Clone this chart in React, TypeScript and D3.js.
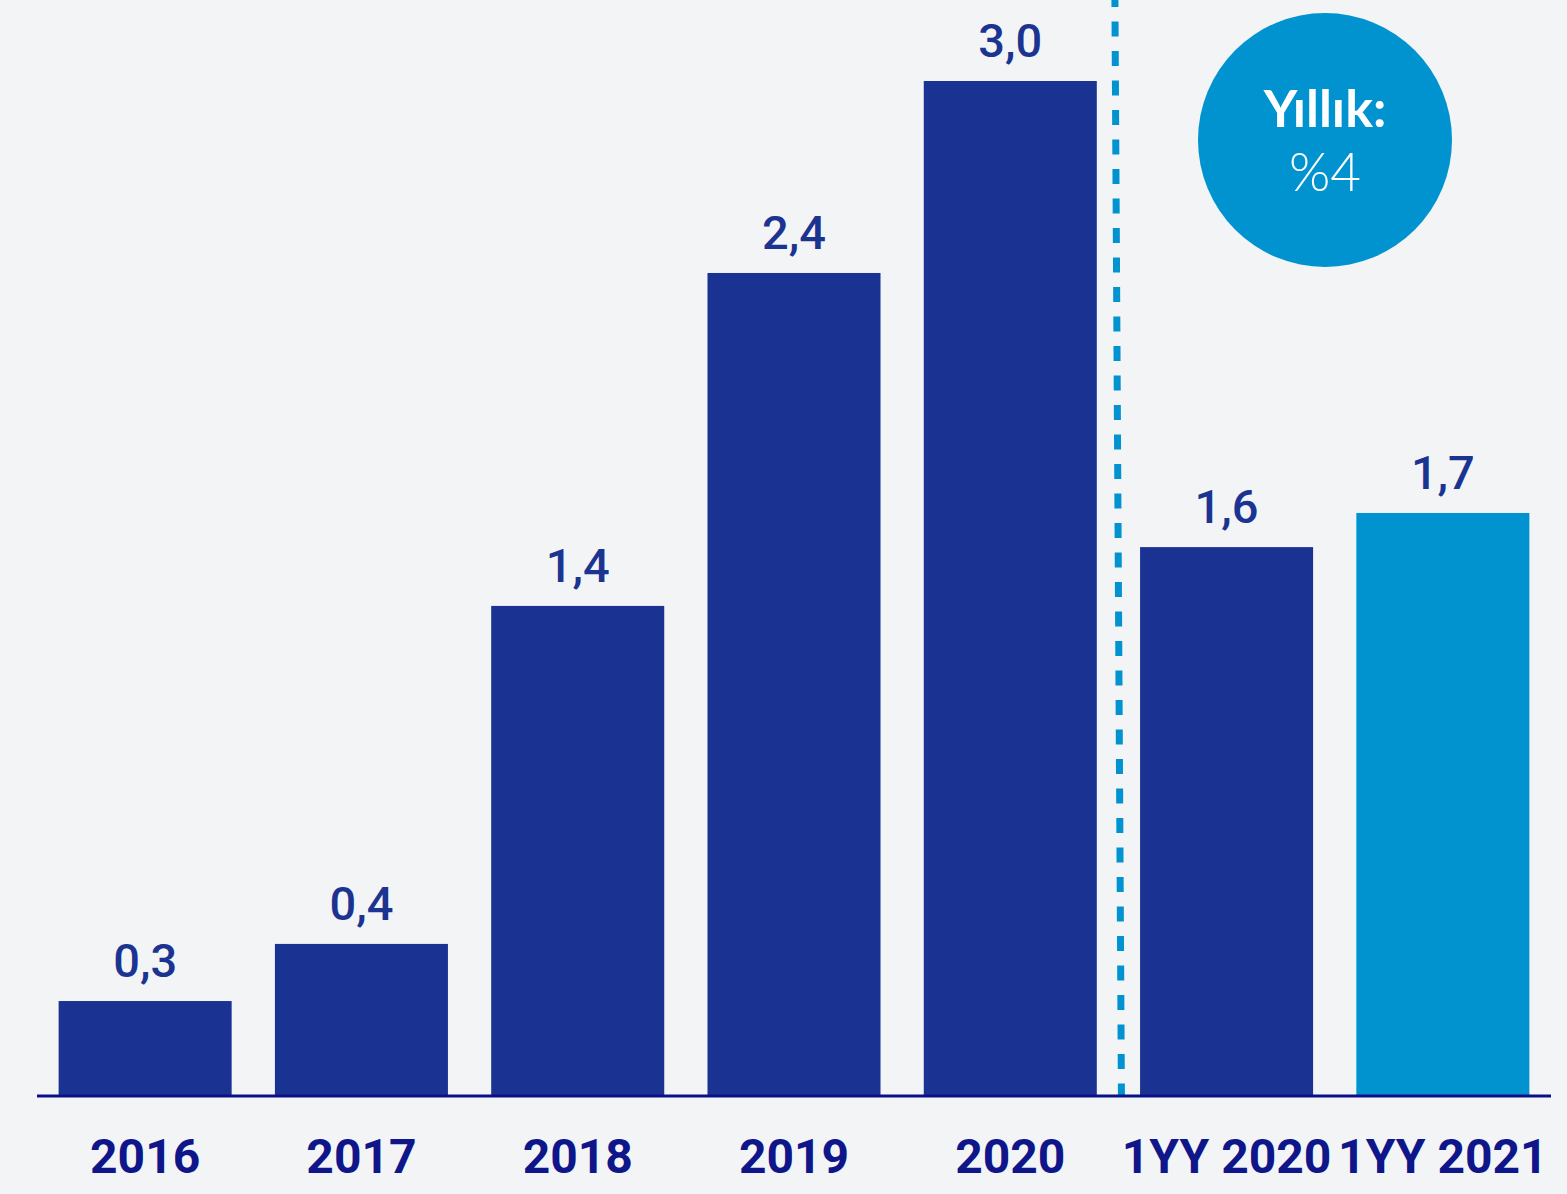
import React from "react";
import * as d3 from "d3";

const categories = ["2016", "2017", "2018", "2019", "2020", "1YY 2020", "1YY 2021"];
const values = [0.278, 0.447, 1.447, 2.432, 3.0, 1.621, 1.722];
const valueLabels = ["0,3", "0,4", "1,4", "2,4", "3,0", "1,6", "1,7"];
const highlight = [false, false, false, false, false, false, true];
const badgeTitle = "Yıllık:";
const badgeValue = "%4";

const W = 1567;
const H = 1194;
const BG = "#f3f4f6";
const DARK = "#1a3393";
const LIGHT = "#0093d0";
const AXIS = "#0c0f8a";

export default function App() {
  const x = d3.scaleBand<string>().domain(categories).range([37, 1551]).paddingInner(0.2).paddingOuter(0.1);
  const y = d3.scaleLinear().domain([0, 3.0]).range([1095, 81]);
  const bw = x.bandwidth();
  const sepX = ((x("2020") as number) + bw + (x("1YY 2020") as number)) / 2;

  return (
    <svg width={W} height={H} style={{ position: "absolute", left: 0, top: 0, background: BG }}>
      <rect x={0} y={0} width={W} height={H} fill={BG} />
      {categories.map((c, i) => (
        <g key={c}>
          <rect x={x(c)} y={y(values[i])} width={bw} height={y(0) - y(values[i])} fill={highlight[i] ? LIGHT : DARK} />
          <text
            x={(x(c) as number) + bw / 2}
            y={y(values[i]) - 24}
            textAnchor="middle"
            fontFamily="Roboto, 'Noto Sans', sans-serif"
            fontWeight={500}
            fontSize={47}
            fill="#1c3491"
          >
            {valueLabels[i]}
          </text>
          <text
            x={(x(c) as number) + bw / 2}
            y={1173}
            textAnchor="middle"
            fontFamily="Roboto, 'Noto Sans', sans-serif"
            fontWeight={700}
            fontSize={48}
            fill="#0f1689"
          >
            {c}
          </text>
        </g>
      ))}
      <line x1={sepX - 3.5} y1={0} x2={sepX + 3} y2={1095} stroke={LIGHT} strokeWidth={7} strokeDasharray="15 14.5" strokeDashoffset={8} />
      <rect x={37} y={1094.5} width={1514} height={3} fill={AXIS} />
      <circle cx={1325} cy={140} r={127} fill={LIGHT} />
      <text x={1325} y={127} textAnchor="middle" fontFamily="Lato, 'Open Sans', sans-serif" fontWeight={700} fontSize={52} fill="#fff">
        {badgeTitle}
      </text>
      <text x={1325} y={191} textAnchor="middle" fontFamily="Lato, 'Open Sans', sans-serif" fontWeight={300} fontSize={53} fill="#fff">
        {badgeValue}
      </text>
    </svg>
  );
}
